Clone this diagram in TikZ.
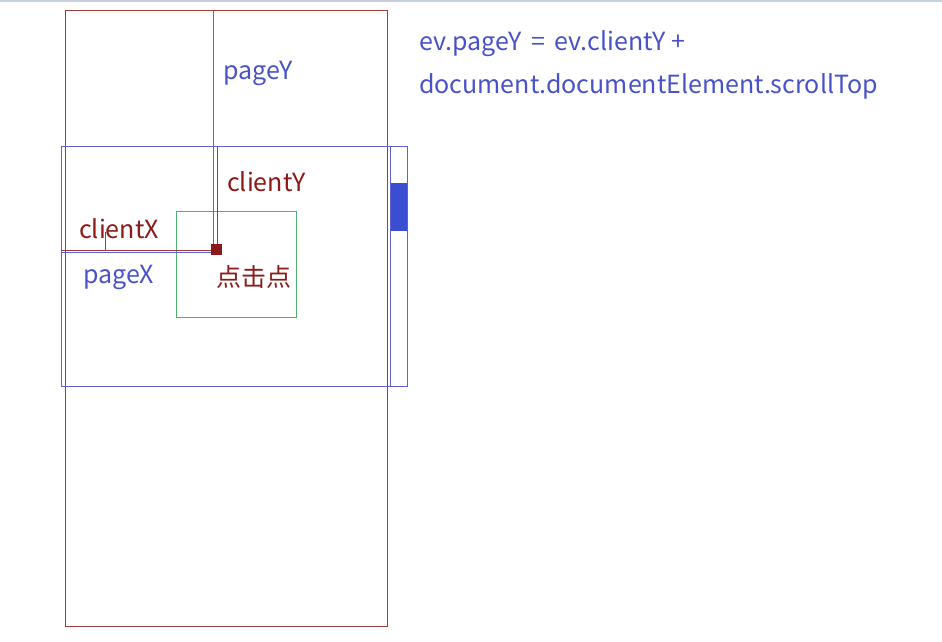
\documentclass[tikz,border=0pt]{standalone}
\usepackage{fontspec}
\setmainfont{Noto Sans CJK SC}
\definecolor{pageblue}{RGB}{72,82,200}
\definecolor{linkblue}{RGB}{96,96,208}
\definecolor{thumbblue}{RGB}{58,78,212}
\definecolor{clientred}{RGB}{140,24,24}
\definecolor{boxgreen}{RGB}{80,176,112}
\definecolor{topbar}{RGB}{200,208,224}
\tikzset{
  label/.style={inner sep=0pt, font=\fontsize{25}{30}\selectfont},
  blueline/.style={draw=linkblue, line width=0.9pt},
  redline/.style={draw=clientred!85, line width=0.9pt}
}
\begin{document}
\begin{tikzpicture}[x=1pt,y=-1pt]
\useasboundingbox (0,0) rectangle (942,642);
\fill[topbar] (0,0) rectangle (942,2.5);
\coordinate (click) at (216,249.5);
% Draw page and viewport
\draw[redline] (65,10) rectangle (387,626);
\draw[blueline] (61,146) rectangle (390,386);
\draw[blueline] (390,146) rectangle (407,386);
\fill[thumbblue] (390.5,183) rectangle (407,231);
% Clicked element
\draw[draw=boxgreen, line width=0.9pt] (176,211) rectangle (296.5,317);
% Draw distances
\draw[blueline] (213,10) -- (213,249);
\draw[redline] (217.5,146) -- (217.5,249);
\draw[redline] (61,250.5) -- (213,250.5);
\draw[blueline] (61,252.5) -- (213,252.5);
\draw[gray!70!black, line width=0.5pt] (105,232) -- (105,251);
% Dot at click point
\fill[clientred] (211,244) rectangle (221.5,255);
% Labels
\node[label, pageblue, anchor=west] (pagey) at (223,73) {pageY};
\node[label, clientred, anchor=west] (clienty) at (227,182) {clientY};
\node[label, clientred, anchor=west] (clientx) at (79,229) {clientX};
\node[label, pageblue, anchor=west] (pagex) at (83,277) {pageX};
\node[label, clientred, anchor=west] (point) at (216,277) {点击点};
% Formula
\node[label, pageblue, anchor=west] (formula1) at (419,44) {ev.pageY \,=\, ev.clientY +};
\node[label, pageblue, anchor=west] (formula2) at (419,86) {document.documentElement.scrollTop};
\end{tikzpicture}
\end{document}
